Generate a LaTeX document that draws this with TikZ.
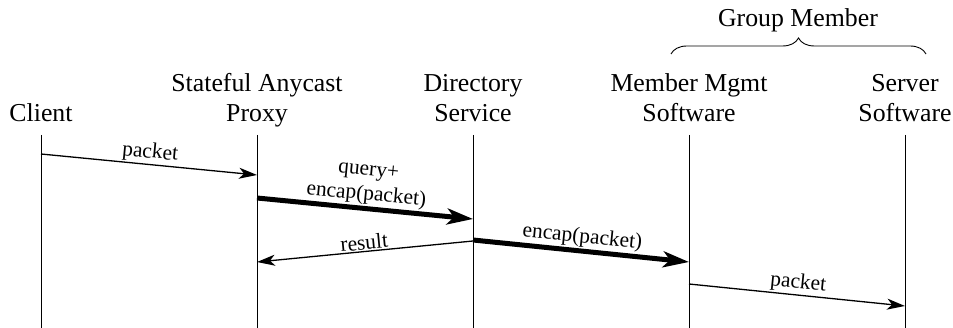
\documentclass[tikz,border=0pt]{standalone}
\usepackage{fontspec}
\setmainfont{Liberation Serif}
\usetikzlibrary{arrows.meta,decorations.pathreplacing}
\tikzset{
  hdr/.style={font=\fontsize{25.8}{30.5}\selectfont, align=center, inner sep=0pt, anchor=base},
  lbl/.style={font=\fontsize{21.4}{24.5}\selectfont, align=center, inner sep=1.5pt, sloped, above},
  lifeline/.style={line width=1pt},
  thinmsg/.style={line width=1.3pt, -{Stealth[length=18pt,width=11pt,inset=5pt]}},
  thickmsg/.style={line width=5pt, -{Stealth[length=26pt,width=16pt,inset=7pt]}},
}
\begin{document}
\begin{tikzpicture}[x=1pt,y=-1pt]
\useasboundingbox (0,0) rectangle (953,328);
% headers
\node[hdr] (client) at (41,122) {Client};
\node[hdr] (proxy) at (257,122) {Stateful Anycast\\Proxy};
\node[hdr] (dir) at (473,122) {Directory\\Service};
\node[hdr] (mgmt) at (689,122) {Member Mgmt\\Software};
\node[hdr] (server) at (905,122) {Server\\Software};
\node[hdr] (group) at (798,27) {Group Member};
% brace
\coordinate (bl) at (671,54);
\coordinate (br) at (926,54);
\draw[line width=0.9pt, decorate, decoration={brace, amplitude=16pt}] (bl) -- (br);
% lifelines
\foreach \n/\x in {c/41, p/257, d/473, m/689, s/905}{
  \coordinate (\n top) at (\x,135);
  \coordinate (\n bot) at (\x,328);
  \draw[lifeline] (\n top) -- (\n bot);
}
% message end points
\coordinate (m1s) at (41,154);  \coordinate (m1e) at (257,175);
\coordinate (m2s) at (257,198); \coordinate (m2e) at (473,219);
\coordinate (m3s) at (473,241); \coordinate (m3e) at (257,262);
\coordinate (m4s) at (473,240); \coordinate (m4e) at (689,262);
\coordinate (m5s) at (689,284); \coordinate (m5e) at (905,306);
% messages
\draw[thinmsg] (m1s) -- node[lbl] (l1) {packet} (m1e);
\draw[thickmsg] (m2s) -- node[lbl] (l2) {query+\\encap(packet)} (m2e);
\draw[thinmsg] (m3s) -- (m3e);
\path (m3e) -- node[lbl] (l3) {result} (m3s);
\draw[thickmsg] (m4s) -- node[lbl] (l4) {encap(packet)} (m4e);
\draw[thinmsg] (m5s) -- node[lbl] (l5) {packet} (m5e);
\end{tikzpicture}
\end{document}
